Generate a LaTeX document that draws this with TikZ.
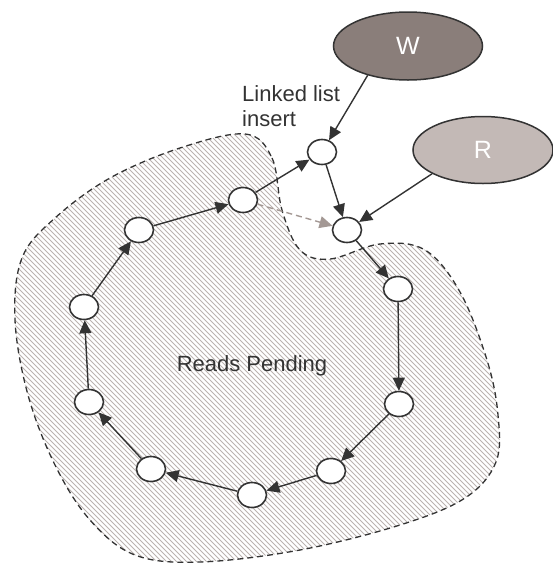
\documentclass[tikz,border=0pt]{standalone}
\usepackage{fontspec}
\setmainfont{Liberation Sans}
\usetikzlibrary{arrows.meta,shapes.geometric}
\definecolor{ink}{HTML}{333333}
\definecolor{wfill}{HTML}{8A7E7A}
\definecolor{rfill}{HTML}{C3B9B6}
\definecolor{hatchc}{HTML}{BBB3B0}
\definecolor{dashc}{HTML}{A39894}
\tikzset{
  dot/.style={ellipse,draw=ink,fill=white,line width=1.6pt,minimum width=29pt,minimum height=25pt,inner sep=0pt},
  big/.style={ellipse,draw=ink,line width=1.5pt,inner sep=0pt,text=white,font=\fontsize{25}{30}\selectfont},
  arr/.style={draw=ink,line width=1.4pt,-{Triangle[length=13pt,width=12pt]}},
  garr/.style={draw=dashc,line width=1.4pt,dash pattern=on 6pt off 4pt,-{Triangle[length=13pt,width=12pt]}},
  lbl/.style={text=ink,font=\fontsize{22}{26}\selectfont,inner sep=0pt},
  hatchline/.style={draw=hatchc,line width=1.0pt}
}
\begin{document}
\begin{tikzpicture}[x=1pt,y=-1pt]
\useasboundingbox (0,0) rectangle (553,563);
\def\region{plot[smooth cycle,tension=0.6] coordinates {(245,134) (272,158) (282,210) (300,250) (330,259) (380,244) (425,250) (460,292) (487,360) (498,415) (496,462) (465,498) (400,525) (300,550) (200,562) (135,555) (90,520) (55,465) (28,395) (15,320) (22,258) (55,218) (110,178) (180,148)}}
\begin{scope}
\clip \region;
\foreach \x in {-600,-595,...,560} \draw[hatchline] (\x,0) -- (\x+600,600);
\end{scope}
\draw[ink,line width=1.3pt,dash pattern=on 6pt off 4pt] \region;
\node[lbl] (rp) at (252,371) [anchor=base] {Reads Pending};
\node[lbl] (ll1) at (242,101) [anchor=base west] {Linked list};
\node[lbl] (ll2) at (242,126) [anchor=base west] {insert};
\node[big,fill=wfill,minimum width=149pt,minimum height=68pt] (W) at (408,46) {W};
\node[big,fill=rfill,minimum width=140pt,minimum height=67pt] (R) at (483,150) {R};
\node[dot] (A) at (84,307) {};
\node[dot] (B) at (89,402) {};
\node[dot] (C) at (151,469) {};
\node[dot] (D) at (252,495) {};
\node[dot] (E) at (331,471) {};
\node[dot] (F) at (399,404) {};
\node[dot] (G) at (398,289) {};
\node[dot] (H) at (347,230) {};
\node[dot] (I) at (322,152) {};
\node[dot] (J) at (243,200) {};
\node[dot] (K) at (139,230) {};
\draw[arr] (B) -- (A);
\draw[arr] (A) -- (K);
\draw[arr] (K) -- (J);
\draw[arr] (J) -- (I);
\draw[arr] (I) -- (H);
\draw[arr] (H) -- (G);
\draw[arr] (G) -- (F);
\draw[arr] (F) -- (E);
\draw[arr] (E) -- (D);
\draw[arr] (D) -- (C);
\draw[arr] (C) -- (B);
\draw[garr] (J) -- (H);
\draw[arr] (W.216) -- (I);
\draw[arr] (R.205) -- (H);
\end{tikzpicture}
\end{document}
